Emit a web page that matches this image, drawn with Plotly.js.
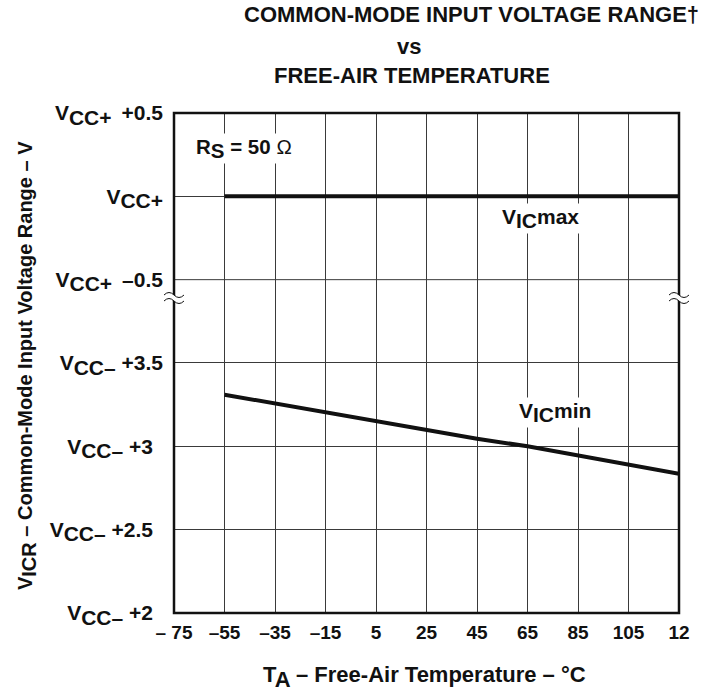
<!DOCTYPE html>
<html>
<head>
<meta charset="utf-8">
<script src="https://cdn.plot.ly/plotly-3.0.1.min.js"></script>
<style>html,body{margin:0;padding:0;background:#fff;}#chart{width:703px;height:691px;}</style>
</head>
<body>
<div id="chart"></div>
<script>
// ---- data ----
const temps = [-55, -35, -15, 5, 25, 45, 65, 85, 105, 125];            // TA, °C
const vicMin = [3.31, 3.256, 3.206, 3.15, 3.10, 3.046, 3.00, 2.944, 2.892, 2.836]; // V above VCC–
const vicMaxTemps = [-55, 125];
const vicMax = [0, 0];                                                  // V relative to VCC+
const xTickVals = [-75, -55, -35, -15, 5, 25, 45, 65, 85, 105, 125];
const xTickText = ['– 75', '–55', '–35', '–15', '5', '25', '45', '65', '85', '105', '12'];
const yLowTickVals = [2, 2.5, 3, 3.5];
const yLowTickSuffix = ['+2', '+2.5', '+3', '+3.5'];
const yHighTickVals = [-0.5, 0, 0.5];
const yHighTickSuffix = ['–0.5', '', '+0.5'];

const FONT = 'Liberation Sans, Arial, sans-serif';
const NARROW = 'Liberation Sans Narrow, Arial Narrow, Liberation Sans, sans-serif';
const bold = (size, fam) => ({family: fam || FONT, size: size, color: '#111', weight: 'bold'});
const GRID = '#3a3a3a';
const NB = '\u00A0';
const sub = (t, px) => '<sub><span style="font-size:' + px + 'px">' + t + '</span></sub>';

const TICK = 21;
const yLowTickText = yLowTickSuffix.map((s, i) => 'V' + sub('CC–', TICK) + NB + s + (i < 3 ? NB + '\u2009' : ''));
const yHighTickText = yHighTickSuffix.map(s => 'V' + sub('CC+', TICK) + (s ? NB + '\u2009' + s : ''));

const traces = [
  {x: temps, y: vicMin, xaxis: 'x', yaxis: 'y', mode: 'lines', line: {color: '#111', width: 4}, hoverinfo: 'skip'},
  {x: vicMaxTemps, y: vicMax, xaxis: 'x', yaxis: 'y2', mode: 'lines', line: {color: '#111', width: 4}, hoverinfo: 'skip'}
];

function breakMark(xp) {
  return [
    {type: 'path', xref: 'paper', yref: 'paper', xsizemode: 'pixel', ysizemode: 'pixel', xanchor: xp, yanchor: 0.63,
     path: 'M -10 3 Q -5 8 0 3 Q 5 -2 10 3 L 10 -3 Q 5 -8 0 -3 Q -5 2 -10 -3 Z', fillcolor: '#fff', line: {width: 0}, layer: 'above'},
    {type: 'path', xref: 'paper', yref: 'paper', xsizemode: 'pixel', ysizemode: 'pixel', xanchor: xp, yanchor: 0.63,
     path: 'M -10 3 Q -5 8 0 3 Q 5 -2 10 3', line: {color: '#111', width: 1}, layer: 'above'},
    {type: 'path', xref: 'paper', yref: 'paper', xsizemode: 'pixel', ysizemode: 'pixel', xanchor: xp, yanchor: 0.63,
     path: 'M -10 -3 Q -5 2 0 -3 Q 5 -8 10 -3', line: {color: '#111', width: 1}, layer: 'above'}
  ];
}

const layout = {
  width: 703, height: 691,
  margin: {l: 174, r: 24, t: 113, b: 78},
  paper_bgcolor: '#fff', plot_bgcolor: '#fff',
  showlegend: false,
  xaxis: {range: [-75, 125], tickvals: xTickVals, ticktext: xTickText, showgrid: true, gridcolor: GRID, gridwidth: 1,
          zeroline: false, showline: false, ticks: '', tickfont: bold(19), ticklabelstandoff: 6, anchor: 'y', fixedrange: true},
  yaxis: {domain: [0, 4/6], range: [2, 4], tickvals: yLowTickVals, ticktext: yLowTickText, showgrid: true, gridcolor: GRID,
          gridwidth: 1, zeroline: false, showline: false, ticks: '', tickfont: bold(TICK), ticklabelstandoff: 10, anchor: 'x'},
  yaxis2: {domain: [4/6, 1], range: [-0.5, 0.5], tickvals: yHighTickVals, ticktext: yHighTickText, showgrid: true, gridcolor: GRID,
          gridwidth: 1, zeroline: false, showline: false, ticks: '', tickfont: bold(TICK), ticklabelstandoff: 10, anchor: 'x'},
  shapes: [
    {type: 'line', xref: 'paper', yref: 'paper', x0: 0, x1: 1, y0: 4/6, y1: 4/6, line: {color: GRID, width: 1}, layer: 'below'},
    {type: 'rect', xref: 'paper', yref: 'paper', x0: 0, x1: 1, y0: 0, y1: 1, line: {color: '#111', width: 2.5}, layer: 'above'}
  ].concat(breakMark(0), breakMark(1)),
  annotations: [
    {text: 'COMMON-MODE INPUT VOLTAGE RANGE†', xref: 'paper', yref: 'paper', x: 0.1347, y: 1.197, showarrow: false, font: bold(22, NARROW), xanchor: 'left', yanchor: 'middle'},
    {text: 'vs', xref: 'paper', yref: 'paper', x: 0.466, y: 1.133, showarrow: false, font: bold(22, NARROW), xanchor: 'center', yanchor: 'middle'},
    {text: 'FREE-AIR TEMPERATURE', xref: 'paper', yref: 'paper', x: 0.471, y: 1.074, showarrow: false, font: bold(22, NARROW), xanchor: 'center', yanchor: 'middle'},
    {text: 'T' + sub('A', 22) + ' – Free-Air Temperature – °C', xref: 'paper', yref: 'paper', x: 0.497, y: -0.128, showarrow: false, font: bold(22), xanchor: 'center', yanchor: 'middle'},
    {text: 'V' + sub('ICR', 20) + ' – Common-Mode Input Voltage Range – V', xref: 'paper', yref: 'paper', x: -0.291, y: 0.494, textangle: -90, showarrow: false, font: bold(20), xanchor: 'center', yanchor: 'middle'},
    {text: 'R' + sub('S', 20.5) + ' = 50 <span style="font-weight:normal">Ω</span>', xref: 'x', yref: 'y2', x: -67, y: 0.29, showarrow: false, font: bold(20.5), xanchor: 'left', yanchor: 'middle', bgcolor: '#fff'},
    {text: 'V' + sub('IC', 21) + 'max', xref: 'x', yref: 'y2', x: 54, y: -0.13, showarrow: false, font: bold(21), xanchor: 'left', yanchor: 'middle', bgcolor: '#fff'},
    {text: 'V' + sub('IC', 21) + 'min', xref: 'x', yref: 'y', x: 61, y: 3.2, showarrow: false, font: bold(21), xanchor: 'left', yanchor: 'middle', bgcolor: '#fff'}
  ]
};

Plotly.newPlot('chart', traces, layout, {staticPlot: true, displayModeBar: false});
</script>
</body>
</html>
